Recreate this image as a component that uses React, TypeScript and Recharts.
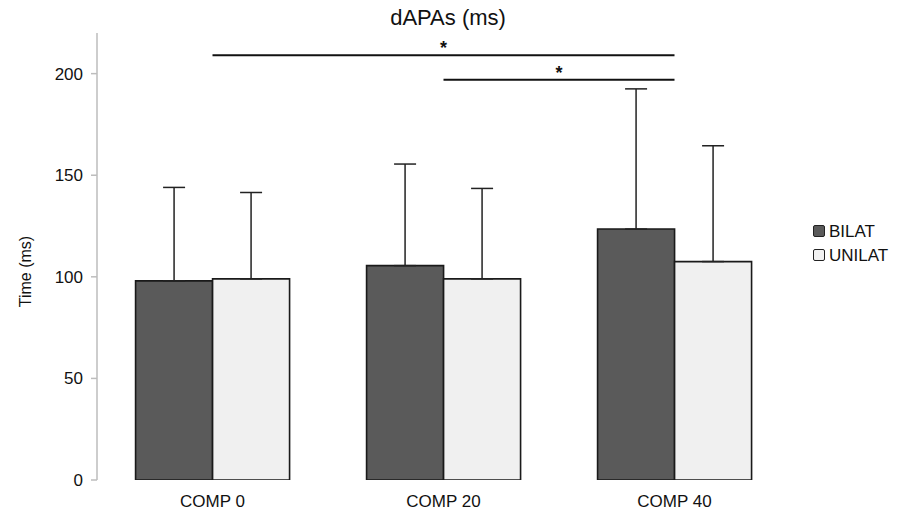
import { BarChart, Bar, XAxis, YAxis, ErrorBar, ReferenceLine } from 'recharts';

const categories = ['COMP 0', 'COMP 20', 'COMP 40'];
const bilat = [98, 105.5, 123.5];
const bilatSd = [46, 50, 69];
const unilat = [99, 99, 107.5];
const unilatSd = [42.5, 44.5, 57];
const yTicks = [0, 50, 100, 150, 200];
const boundaryTicks = [0, 1, 2, 3];
// significance brackets: from, to, height
const sigLines = [
    { from: 'COMP 0', to: 'COMP 40', y: 209 },
    { from: 'COMP 20', to: 'COMP 40', y: 197 },
];

const data = categories.map((c, i) => ({
    name: c,
    bilat: bilat[i],
    bilatErr: [0, bilatSd[i]],
    unilat: unilat[i],
    unilatErr: [0, unilatSd[i]],
}));

const FONT = '"Liberation Sans", Arial, sans-serif';
const AXIS_GRAY = '#bdbdbd';

const legendItems = [
    { label: 'BILAT', fill: '#5a5a5a' },
    { label: 'UNILAT', fill: '#f2f2f2' },
];

const LegendBox = () => (
    <div style={{ position: 'absolute', left: 813, top: 219, fontSize: 17, color: '#111', lineHeight: 1 }}>
        {legendItems.map((it) => (
            <div key={it.label} style={{ display: 'flex', alignItems: 'center', height: 24 }}>
                <span style={{ width: 10, height: 10, background: it.fill, border: '1.5px solid #222', borderRadius: 2, marginRight: 4 }} />
                <span>{it.label}</span>
            </div>
        ))}
    </div>
);

const YLabel = ({ viewBox }: any) => {
    const x = viewBox.x + 31;
    const y = viewBox.y + viewBox.height / 2 + 15;
    return (
        <text x={x} y={y} transform={`rotate(-90, ${x}, ${y})`} textAnchor="middle" fontSize={16} fill="#111" fontFamily={FONT}>
            Time (ms)
        </text>
    );
};

const NoLabel = () => <g />;

export default function App() {
    return (
        <div style={{ position: 'absolute', left: 0, top: 0, width: 910, height: 516, background: '#fff', fontFamily: FONT }}>
            <div style={{ position: 'absolute', top: 7, left: 348, width: 200, textAlign: 'center', fontSize: 22, lineHeight: 1, color: '#111' }}>
                dAPAs (ms)
            </div>
            <BarChart
                width={910}
                height={516}
                data={data}
                margin={{ top: 33, right: 120, bottom: 0, left: 0 }}
                barCategoryGap="16.7%"
                barGap={0}
            >
                <XAxis
                    xAxisId="bounds"
                    type="number"
                    domain={[0, 3]}
                    ticks={boundaryTicks}
                    allowDataOverflow
                    height={0}
                    tick={<NoLabel />}
                    tickSize={7}
                    axisLine={{ stroke: AXIS_GRAY, strokeWidth: 1.5 }}
                    tickLine={{ stroke: AXIS_GRAY, strokeWidth: 1.5 }}
                />
                <XAxis
                    xAxisId="cat"
                    dataKey="name"
                    axisLine={false}
                    tickLine={false}
                    tickMargin={9}
                    height={36}
                    tick={{ fill: '#111', fontSize: 17, fontFamily: FONT }}
                />
                <YAxis
                    width={97}
                    domain={[0, 220]}
                    ticks={yTicks}
                    allowDataOverflow
                    axisLine={{ stroke: AXIS_GRAY, strokeWidth: 1.5 }}
                    tickLine={{ stroke: AXIS_GRAY, strokeWidth: 1.5 }}
                    tickSize={6}
                    tickMargin={8}
                    tick={{ fill: '#111', fontSize: 17, fontFamily: FONT }}
                    label={<YLabel />}
                />
                <Bar xAxisId="cat" dataKey="bilat" name="BILAT" fill="#5a5a5a" stroke="#1a1a1a" strokeWidth={1.6} isAnimationActive={false}>
                    <ErrorBar dataKey="bilatErr" direction="y" width={11} stroke="#222" strokeWidth={1.5} isAnimationActive={false} />
                </Bar>
                <Bar xAxisId="cat" dataKey="unilat" name="UNILAT" fill="#f0f0f0" stroke="#1a1a1a" strokeWidth={1.6} isAnimationActive={false}>
                    <ErrorBar dataKey="unilatErr" direction="y" width={11} stroke="#222" strokeWidth={1.5} isAnimationActive={false} />
                </Bar>
                {sigLines.map((s) => (
                    <ReferenceLine
                        key={s.from + s.to}
                        xAxisId="cat"
                        segment={[{ x: s.from, y: s.y }, { x: s.to, y: s.y }]}
                        stroke="#111"
                        strokeWidth={2}
                        label={{ value: '*', position: 'top', offset: 1, fontSize: 18, fontWeight: 'bold', fill: '#111', fontFamily: FONT }}
                    />
                ))}
            </BarChart>
            <LegendBox />
        </div>
    );
}
